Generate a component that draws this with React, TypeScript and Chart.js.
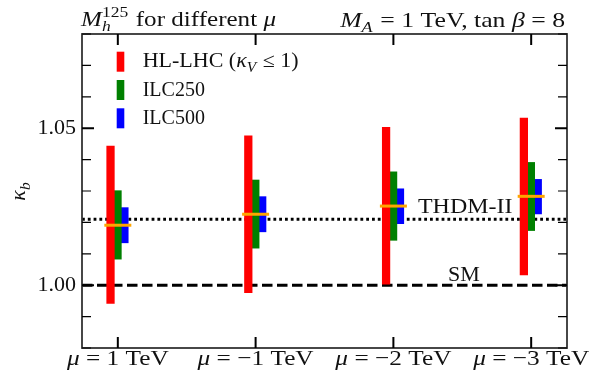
import React, { useEffect, useRef } from 'react';
import { Chart, registerables } from 'chart.js';

Chart.register(...registerables);

// ---- data ----
const categories = ['1', '−1', '−2', '−3']; // μ in TeV
const hlLow = [0.9942, 0.9976, 1.0003, 1.0033];
const hlHigh = [1.0443, 1.0476, 1.0503, 1.0532];
const ilc250Low = [1.0083, 1.0118, 1.0143, 1.0174];
const ilc250High = [1.0301, 1.0335, 1.0361, 1.0391];
const ilc500Low = [1.0135, 1.017, 1.0196, 1.0227];
const ilc500High = [1.0247, 1.0282, 1.0307, 1.0337];
const centralValues = [1.0191, 1.0226, 1.0252, 1.0283];
const smValue = 1.0;
const thdmValue = 1.021;
const yMajorTicks = [1.0, 1.05];
const yTickLabels = ['1.00', '1.05'];
const legendLabels = ['HL-LHC', 'ILC250', 'ILC500'];

const X_MIN = -0.26;
const X_MAX = 3.26;
const Y_MIN = 0.98;
const Y_MAX = 1.08;

const FONT = '"Liberation Serif", "Times New Roman", serif';
const RED = '#ff0000';
const GREEN = '#008000';
const BLUE = '#0000ff';
const ORANGE = '#ffa500';

type Seg = { t?: string; i?: boolean; sub?: string; sup?: string };

const fontStr = (size: number, italic: boolean) => `${italic ? 'italic ' : ''}${size}px ${FONT}`;

function segWidth(ctx: CanvasRenderingContext2D, seg: Seg, size: number) {
  if (seg.t !== undefined) {
    ctx.font = fontStr(size, !!seg.i);
    return ctx.measureText(seg.t).width;
  }
  const ss = size * 0.7;
  let w = 0;
  if (seg.sub) {
    ctx.font = fontStr(ss, true);
    w = Math.max(w, ctx.measureText(seg.sub).width);
  }
  if (seg.sup) {
    ctx.font = fontStr(ss, false);
    w = Math.max(w, ctx.measureText(seg.sup).width);
  }
  return w + size * 0.05;
}

function drawRich(
  ctx: CanvasRenderingContext2D,
  segs: Seg[],
  x: number,
  y: number,
  size: number,
  align: 'left' | 'right' | 'center',
  hs = 1
) {
  const ws = segs.map((s) => segWidth(ctx, s, size));
  const total = ws.reduce((a, b) => a + b, 0) * hs;
  const x0 = align === 'left' ? x : align === 'right' ? x - total : x - total / 2;
  ctx.save();
  ctx.translate(x0, y);
  ctx.scale(hs, 1);
  ctx.textAlign = 'left';
  ctx.textBaseline = 'alphabetic';
  let cx = 0;
  segs.forEach((s, k) => {
    if (s.t !== undefined) {
      ctx.font = fontStr(size, !!s.i);
      ctx.fillText(s.t, cx, 0);
    } else {
      const ss = size * 0.7;
      if (s.sub) {
        ctx.font = fontStr(ss, true);
        ctx.fillText(s.sub, cx, size * 0.24);
      }
      if (s.sup) {
        ctx.font = fontStr(ss, false);
        ctx.fillText(s.sup, cx, -size * 0.4);
      }
    }
    cx += ws[k];
  });
  ctx.restore();
}

const decorPlugin = {
  id: 'decor',
  afterDraw(chart: any) {
    const { ctx, chartArea: a } = chart;
    const xs = chart.scales.x;
    const ys = chart.scales.y;
    ctx.save();

    // frame
    ctx.strokeStyle = '#333';
    ctx.lineWidth = 1.8;
    ctx.strokeRect(a.left, a.top, a.right - a.left, a.bottom - a.top);

    // y ticks (inward, both sides)
    ctx.strokeStyle = '#000';
    ys.ticks.forEach((t: any) => {
      const py = ys.getPixelForValue(t.value);
      const major = yMajorTicks.some((m) => Math.abs(m - t.value) < 1e-6);
      const len = major ? 12 : 9;
      ctx.lineWidth = major ? 2 : 1.2;
      ctx.beginPath();
      ctx.moveTo(a.left, py);
      ctx.lineTo(a.left + len, py);
      ctx.moveTo(a.right, py);
      ctx.lineTo(a.right - len, py);
      ctx.stroke();
    });

    // x ticks (inward, top and bottom) and labels
    categories.forEach((c, i) => {
      const px = xs.getPixelForValue(i);
      ctx.lineWidth = 2;
      ctx.strokeStyle = '#000';
      ctx.beginPath();
      ctx.moveTo(px, a.top);
      ctx.lineTo(px, a.top + 11);
      ctx.moveTo(px, a.bottom);
      ctx.lineTo(px, a.bottom - 11);
      ctx.stroke();
      ctx.fillStyle = '#111';
      drawRich(ctx, [{ t: 'μ', i: true }, { t: ' = ' + c + ' TeV' }], px, a.bottom + 17, 22, 'center', 1.15);
    });

    ctx.fillStyle = '#111';
    // titles
    drawRich(
      ctx,
      [{ t: 'M', i: true }, { sub: 'h', sup: '125' }, { t: ' for different ' }, { t: 'μ', i: true }],
      a.left - 1,
      26,
      22,
      'left',
      1.14
    );
    drawRich(
      ctx,
      [{ t: 'M', i: true }, { sub: 'A' }, { t: ' = 1 TeV, tan ' }, { t: 'β', i: true }, { t: ' = 8' }],
      a.right - 2,
      26.5,
      22,
      'right',
      1.17
    );

    // y label
    ctx.save();
    ctx.translate(25, (a.top + a.bottom) / 2);
    ctx.rotate(-Math.PI / 2);
    drawRich(ctx, [{ t: 'κ', i: true }, { sub: 'b' }], 0, 0, 22, 'center');
    ctx.restore();

    // legend
    const colors = [RED, GREEN, BLUE];
    const legendTexts: Seg[][] = [
      [{ t: legendLabels[0] + ' (' }, { t: 'κ', i: true }, { sub: 'V' }, { t: ' ≤ 1)' }],
      [{ t: legendLabels[1] }],
      [{ t: legendLabels[2] }],
    ];
    const legendScale = [1.1, 1.0, 1.0];
    colors.forEach((col, k) => {
      const top = 51.7 + k * 28.3;
      ctx.fillStyle = col;
      ctx.fillRect(116.7, top, 7.6, 20);
      ctx.fillStyle = '#111';
      drawRich(ctx, legendTexts[k], 142.7, 67 + k * 28.6, 20, 'left', legendScale[k]);
    });

    // line annotations
    drawRich(ctx, [{ t: 'THDM-II' }], xs.getPixelForValue(2.178), ys.getPixelForValue(thdmValue) - 6, 22, 'left', 1.09);
    drawRich(ctx, [{ t: 'SM' }], xs.getPixelForValue(2.396), ys.getPixelForValue(smValue) - 4, 22, 'left');

    ctx.restore();
  },
};

export default function App() {
  const ref = useRef<HTMLCanvasElement | null>(null);

  useEffect(() => {
    document.body.style.margin = '0';
    if (!ref.current) return;
    const barSet = (label: string, lo: number[], hi: number[], dx: number, color: string, thick: number) => ({
      type: 'bar' as const,
      label,
      data: lo.map((v, i) => ({ x: i + dx, y: [v, hi[i]] })),
      backgroundColor: color,
      borderWidth: 0,
      barThickness: thick,
      grouped: false,
      order: 1,
    });
    const chart = new Chart(ref.current, {
      type: 'bar',
      data: {
        datasets: [
          {
            type: 'scatter',
            label: 'central',
            data: centralValues.map((v, i) => ({ x: i, y: v })),
            pointStyle: 'line',
            pointRadius: 13.5,
            pointHoverRadius: 13.5,
            borderColor: ORANGE,
            backgroundColor: ORANGE,
            borderWidth: 3,
            order: 0,
          } as any,
          barSet(legendLabels[0], hlLow, hlHigh, -0.053, RED, 7.6) as any,
          barSet(legendLabels[1], ilc250Low, ilc250High, 0, GREEN, 7) as any,
          barSet(legendLabels[2], ilc500Low, ilc500High, 0.05, BLUE, 7) as any,
          {
            type: 'line',
            label: 'SM',
            data: [
              { x: X_MIN, y: smValue },
              { x: X_MAX, y: smValue },
            ],
            borderColor: '#000',
            borderWidth: 3,
            borderDash: [10.5, 4.5],
            borderCapStyle: 'butt',
            pointRadius: 0,
            fill: false,
            order: 10,
          } as any,
          {
            type: 'line',
            label: 'THDM-II',
            data: [
              { x: X_MIN, y: thdmValue },
              { x: X_MAX, y: thdmValue },
            ],
            borderColor: '#000',
            borderWidth: 3,
            borderDash: [2.8, 3.0],
            borderCapStyle: 'butt',
            pointRadius: 0,
            fill: false,
            order: 10,
          } as any,
        ],
      },
      options: {
        animation: false,
        responsive: false,
        maintainAspectRatio: false,
        layout: { padding: { left: 0, top: 34, right: 35, bottom: 37 } },
        plugins: { legend: { display: false }, tooltip: { enabled: false } },
        scales: {
          x: { type: 'linear', min: X_MIN, max: X_MAX, offset: false, display: false },
          y: {
            type: 'linear',
            min: Y_MIN,
            max: Y_MAX,
            grid: { display: false, drawTicks: false },
            border: { display: false },
            ticks: {
              stepSize: 0.01,
              autoSkip: false,
              padding: 6,
              color: '#111',
              font: { family: FONT, size: 22 },
              callback: (v: any) => {
                const idx = yMajorTicks.findIndex((m) => Math.abs(m - Number(v)) < 1e-6);
                return idx >= 0 ? yTickLabels[idx] : '';
              },
            },
            afterFit: (s: any) => {
              s.width = 82;
            },
          },
        },
      } as any,
      plugins: [decorPlugin],
    });
    return () => chart.destroy();
  }, []);

  return (
    <div style={{ width: 602, height: 385 }}>
      <canvas ref={ref} width={602} height={385} style={{ display: 'block' }} />
    </div>
  );
}
